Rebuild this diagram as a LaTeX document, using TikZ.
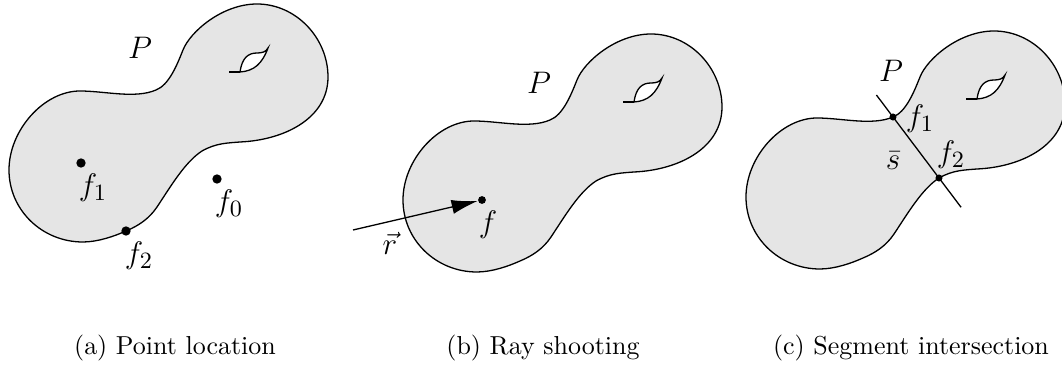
\documentclass[tikz,border=0pt]{standalone}
\usepackage{tikz}
\usetikzlibrary{arrows.meta, calc}
\definecolor{blobgray}{gray}{0.9}
% outline of the region, one unit = one pixel
\newcommand{\blobshape}{(9,170)
  .. controls (9,130) and (44,91) .. (80,91)
  .. controls (105,91) and (135,99) .. (156,90)
  .. controls (169,85) and (177,65) .. (183,50)
  .. controls (190,32) and (222,4) .. (257,4)
  .. controls (296,4) and (328,38) .. (328,77)
  .. controls (328,118) and (285,140) .. (240,142)
  .. controls (228,143) and (216,143) .. (202,151)
  .. controls (185,162) and (171,186) .. (157,207)
  .. controls (149,219) and (138,226) .. (126,231)
  .. controls (115,236) and (98,242) .. (83,242)
  .. controls (42,242) and (9,210) .. (9,170) -- cycle}
\newcommand{\holeshape}{%
  \filldraw[fill=white] (240,72) .. controls (254,71) and (262,64) .. (268,48)
    .. controls (266,52) and (262,53) .. (257,53)
    .. controls (248,53) and (242,58) .. (240,72) -- cycle;
  \draw (229,72) -- (240,72);}

\begin{document}
\begin{tikzpicture}[
    x=0.385pt, y=-0.385pt,
    line width=0.5pt,
    blob/.style={fill=blobgray, draw=black},
    dot/.style={circle, fill=black, inner sep=0pt, minimum size=3pt},
    lbl/.style={inner sep=0pt, font=\fontsize{13}{15}\selectfont},
    caption/.style={anchor=base, font=\normalsize},
    ray/.style={-{Latex[length=10pt, width=5.5pt]}},
    seg/.style={line width=0.5pt}
  ]
    \useasboundingbox (0,0) rectangle (1062,366);

    % (a) point location
    \begin{scope}
      \filldraw[blob] \blobshape;
      \holeshape
      \node[lbl] (Pa) at (140,48) {$P$};
      \node[dot, minimum size=3.6pt] (fa1) at (81,163) {};
      \node[dot, minimum size=3.6pt] (fa2) at (126,231) {};
      \node[dot, minimum size=3.6pt] (fa0) at (217,179) {};
      \node[lbl] (fa1lbl) at (93,188) {$f_1$};
      \node[lbl] (fa2lbl) at (139,256) {$f_2$};
      \node[lbl] (fa0lbl) at (229,204) {$f_0$};
    \end{scope}
    \node[caption] (capa) at (175,355) {(a) Point location};

    % (b) ray shooting
    \begin{scope}[shift={(394,30)}]
      \filldraw[blob] \blobshape;
      \holeshape
      \node[lbl] (Pb) at (145,53) {$P$};
      \node[dot] (fb) at (88,170) {};
      \coordinate (rb) at (-41,200);
      \draw[ray] (rb) -- (fb);
      \node[lbl] (rblbl) at (-4,213) {$\vec{r}$};
      \node[lbl] (fblbl) at (94,195) {$f$};
    \end{scope}
    \node[caption] (capb) at (543,355) {(b) Ray shooting};

    % (c) segment intersection
    \begin{scope}[shift={(737,27)}]
      \filldraw[blob] \blobshape;
      \holeshape
      \node[lbl] (Pc) at (154,44) {$P$};
      \node[dot, minimum size=2.7pt] (fc1) at (156,90) {};
      \node[dot, minimum size=2.7pt] (fc2) at (202,151) {};
      \coordinate (sc0) at ($(fc1)!-0.36!(fc2)$);
      \coordinate (sc1) at ($(fc1)!1.48!(fc2)$);
      \draw[seg] (sc0) -- (sc1);
      \node[lbl] (fc1lbl) at (183,92) {$f_1$};
      \node[lbl] (fc2lbl) at (214,128) {$f_2$};
      \node[lbl] (sclbl) at (156,134) {$\bar{s}$};
    \end{scope}
    \node[caption] (capc) at (911,355) {(c) Segment intersection};
  \end{tikzpicture}
\end{document}
